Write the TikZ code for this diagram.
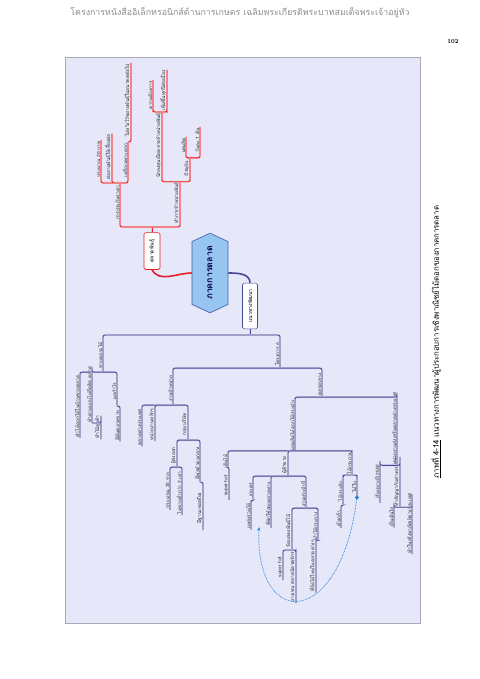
\documentclass[tikz,border=0pt]{standalone}
\usepackage{fontspec}
\newfontfamily\thai[Script=Thai]{Loma}
\usetikzlibrary{arrows.meta, shapes.symbols}
\definecolor{rline}  {RGB}{228, 32, 40}
\definecolor{bline}  {RGB}{ 72, 72,150}
\definecolor{frmfill}{RGB}{231,231,250}
\definecolor{frmedge}{RGB}{170,170,185}
\definecolor{hexfill}{RGB}{150,198,240}
\definecolor{hexedge}{RGB}{ 70, 95,165}
\definecolor{dblue}  {RGB}{ 40,130,220}
\tikzset{
  % topic text, #1 = length of its underline in px
  TP/.style={rotate=90,anchor=south,minimum width=#1*1.24pt,inner sep=0.7pt,
             font=\thai\fontsize{6}{7}\selectfont,text=black!85},
  % boxed first level topics
  RBox/.style={rotate=90,rectangle,rounded corners=2pt,draw=rline,fill=white,
               line width=0.8pt,minimum width=37*1.24pt,minimum height=16*1.24pt,
               inner sep=1pt,font=\thai\fontsize{6.5}{7}\selectfont},
  BBox/.style={rotate=90,rectangle,rounded corners=2pt,draw=bline,fill=white,
               line width=0.8pt,minimum width=46*1.24pt,minimum height=15*1.24pt,
               inner sep=1pt,font=\thai\fontsize{6.5}{7}\selectfont},
  % branch lines
  RL/.style={draw=rline,line width=1pt,rounded corners=2.5pt,
             preaction={draw=rline!30,line width=2.4pt}},
  BL/.style={draw=bline,line width=1pt,rounded corners=2.5pt,
             preaction={draw=bline!25,line width=2.4pt}},
}
\begin{document}
\begin{tikzpicture}[x=0.04375cm,y=-0.04375cm]
  \useasboundingbox (0,0) rectangle (480,679);
  \node[font=\thai\fontsize{11}{13}\selectfont,text=black!45] (head) at (240,13)
       {โครงการหนังสืออิเล็กทรอนิกส์ด้านการเกษตร เฉลิมพระเกียรติพระบาทสมเด็จพระเจ้าอยู่หัว};
  \node[font=\bfseries\fontsize{7.5}{8}\selectfont] (pnum) at (453,42) {102};
  \draw[draw=frmedge,fill=frmfill,line width=0.8pt] (65,57) rectangle (420,623);
  \node[rotate=90,font=\thai\fontsize{9.7}{11}\selectfont] (cap) at (436,342)
       {\underline{ภาพที่ 4-14} แนวทางการพัฒนาผู้ประกอบการเชิงพาณิชย์ไม้ดอกของภาคการตลาด};

  % centre
  \node[signal,signal to=east and west,signal pointer angle=130,rotate=90,
        draw=hexedge,fill=hexfill,line width=0.8pt,minimum width=80*1.24pt,
        minimum height=36*1.24pt,text=blue!30!black,
        font=\thai\bfseries\fontsize{11}{13}\selectfont] (hx) at (210,273) {ภาคการตลาด};

  % red side
  \node[RBox] (tp) at (152,251) {ตลาดพันธุ์};
  \coordinate (rj) at (152,227);
  \draw[rline,line width=2pt] (hx.north) to[out=180,in=-60] (tp.west);
  \node[TP=40] (r1)   at (120,203)   {การประกันราคา};
  \node[TP=40] (r2)   at (180,203)   {ทำการจำหน่ายพันธุ์};
  \node[TP=39] (r11)  at (101,159.5) {ประมาณ 20 บาท};
  \node[TP=44] (r12)  at (112,157)   {ต่ออายุพันธุ์ให้เลี้ยงต่อ};
  \node[TP=37] (r13)  at (128,160.5) {เหลือเฉพาะดอก};
  \node[TP=75] (r131) at (131,100.5) {ไม่หวังไว้ขยายพันธุ์ในอนาคตต่อไป};
  \node[TP=67] (r21)  at (162,145.5) {นักลงทุนเปิดตลาดจำหน่ายพันธุ์};
  \node[TP=26] (r211) at (153,95)    {ความต้องการ};
  \node[TP=35] (r212) at (167,90.5)  {เพิ่มขึ้นทุกปีต่อเนื่อง};
  \node[TP=21] (r22)  at (190,168.5) {ปัจจุบัน};
  \node[TP=17] (r221) at (186,145.5) {ผลผลิต};
  \node[TP=27] (r222) at (200,140.5) {วันละ 1 ต้น};
  \draw[RL] (tp.east) -- (rj);
  \foreach \c in {r1,r2}
    \draw[RL] (rj) -| (\c.south west) -- (\c.south east);
  \foreach \p/\c in {r1/r11,r1/r12,r1/r13,r13/r131,r2/r21,r2/r22,
                     r21/r211,r21/r212,r22/r221,r22/r222}
    \draw[RL] (\p.south east) -| (\c.south west) -- (\c.south east);

  % blue side
  \node[BBox] (bn) at (250,306) {แนวทางพัฒนา};
  \coordinate (bj) at (250,335);
  \draw[bline,line width=2pt] (hx.south) to[out=0,in=90] (bn.east);
  \node[TP=33] (b1)      at (103,355.5) {ขายตลาดไม้};
  \node[TP=29] (b2)      at (280,353.5) {โครงการ ธ.};
  \node[TP=61] (b11)     at (80,406.5)  {ทำไม้ดอกไม้ในบ้านขายตลาด};
  \node[TP=37] (b12)     at (92,394.5)  {ทำตามแบบไม่ยึดติด ตลาด};
  \node[TP=20] (b121)    at (101,427)   {ทำไม้ลูกค้า};
  \node[TP=30] (b13)     at (117,391)   {ผลกำไร};
  \node[TP=31] (b131)    at (120,425.5) {มีต้นตลาดขาย};
  \node[TP=33] (b21)     at (173,388.5) {งานจำหน่าย};
  \node[TP=25] (b22)     at (322,384.5) {ตลาดกลาง};
  \node[TP=37] (b211)    at (142,427.5) {ตลาดต่างประเทศ};
  \node[TP=31] (b212)    at (155,424.5) {หน่วยงานหลักๆ};
  \node[TP=31] (b213)    at (188,424.5) {กลุ่ม บริษัท};
  \node[TP=23] (b2131)   at (177,455.5) {ผู้ส่งออก};
  \node[TP=38] (b2132)   at (200,463)   {มีพ่อค้าคนกลาง};
  \node[TP=39] (b21311)  at (170,490.5) {ประมาณ 20 ราย};
  \node[TP=44] (b21312)  at (182,493)   {ไม่ขายต่ำกว่า 2 เท่า};
  \node[TP=44] (b21321)  at (203,508)   {มีฐานะพอเพียง};
  \node[TP=49] (b221)    at (295,425.5) {ผลผลิตไม้ดอกไม้ประดับ};
  \node[TP=55] (b222)    at (397,428.5) {หน่วยงานส่งเสริมตลาดต่างประเทศ};
  \node[TP=13] (b2211)   at (228,460.5) {ต้นไม้};
  \node[TP=29] (b22111)  at (229,485.5) {super hot};
  \node[TP=22] (b2212)   at (288,465)   {ผู้ค้าขาย};
  \node[TP=19] (b2213)   at (352,463.5) {ไม้กระถาง};
  \node[TP=20] (b22121)  at (253,490)   {เกษตร};
  \node[TP=24] (b221211) at (251,516)   {แหล่งรวมไม้};
  \node[TP=48] (b22122)  at (271,504)   {ที่พักใช้สอยตลาดทาง};
  \node[TP=28] (b22123)  at (306,494)   {งานประจำปี};
  \node[TP=38] (b221231) at (292,531)   {จัดแสดงพันธุ์ไม้};
  \node[TP=28] (b221232) at (318,526)   {ทำไม้กระถาง};
  \node[TP=26] (b2212311) at (283,567)  {super hot};
  \node[TP=46] (b2212312) at (296,577)  {บางเขน ตลาดนัดจตุจักร};
  \node[TP=44] (b2212321) at (316,566)  {ที่จัดไม้ใหม่ในตลาดต่างๆ};
  \node[TP=28] (b22131)  at (343,491)   {ไม้ประดับ};
  \node[TP=19] (b221311) at (341,518.5) {ต้นกล้า};
  \node[TP=20] (b22132)  at (357,487)   {ไม้ใบ};
  \node[TP=43] (b2221)   at (380,481.5) {เริ่มปลายปี 2552};
  \node[TP=43] (b2222)   at (400,481.5) {ทำสัญญากับต่างประเทศ};
  \node[TP=20] (b22221)  at (394,517)   {เป็นต้นไป};
  \node[TP=33] (b22222)  at (412,523.5) {ทำในเชิงพาณิชย์ต่างประเทศ};
  \draw[BL] (bn.west) -- (bj);
  \foreach \c in {b1,b2}
    \draw[BL] (bj) -| (\c.south east) -- (\c.south west);
  \foreach \p/\c in {b1/b11,b1/b12,b1/b13,b12/b121,b13/b131,b2/b21,b2/b22,
                     b21/b211,b21/b212,b21/b213,b213/b2131,b213/b2132,
                     b2131/b21311,b2131/b21312,b2132/b21321,b22/b221,b22/b222,
                     b221/b2211,b221/b2212,b221/b2213,b2211/b22111,
                     b2212/b22121,b2212/b22122,b2212/b22123,b22121/b221211,
                     b22123/b221231,b22123/b221232,b221231/b2212311,
                     b221231/b2212312,b221232/b2212321,b2213/b22131,
                     b2213/b22132,b22131/b221311,b222/b2221,b222/b2222,
                     b2222/b22221,b2222/b22222}
    \draw[BL] (\p.south west) -| (\c.south east) -- (\c.south west);

  % link
  \coordinate (atip) at (259,527);
  \draw[dblue,densely dotted,line width=0.9pt,
        {Circle[length=5pt,sep=-2pt]}-{Stealth[length=5pt,width=4pt]}]
       (b22132.south west) .. controls (340,630) and (255,630) .. (atip);
\end{tikzpicture}
\end{document}
